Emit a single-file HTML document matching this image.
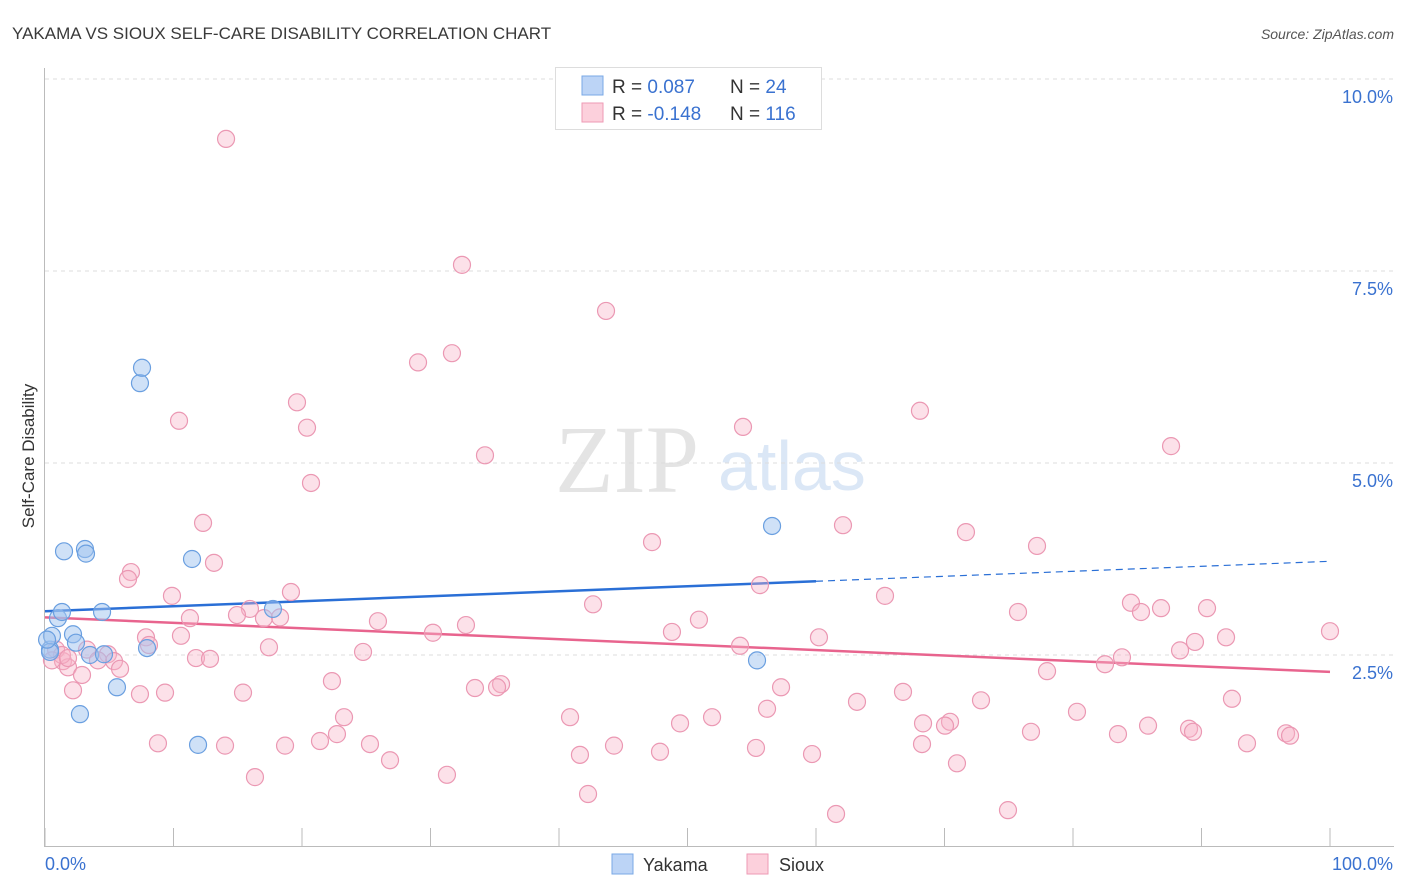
<!DOCTYPE html>
<html><head><meta charset="utf-8"><style>
body{margin:0;background:#fff;font-family:"Liberation Sans",sans-serif}
svg{display:block}
</style></head><body>
<svg id="chart" width="1406" height="892" xmlns="http://www.w3.org/2000/svg">
<text x="12" y="39" font-size="17" fill="#3a3a3a">YAKAMA VS SIOUX SELF-CARE DISABILITY CORRELATION CHART</text>
<text x="1394" y="39" font-size="14" font-style="italic" fill="#555" text-anchor="end">Source: ZipAtlas.com</text>
<g>
<text x="555" y="492" font-family="Liberation Serif" font-size="96" fill="#e4e4e4">ZIP</text>
<text x="718" y="490" font-size="70" fill="#dbe7f6">atlas</text>
</g>
<g id="grid"></g>
<g id="axes"></g>
<text transform="translate(34,456) rotate(-90)" font-size="17" fill="#333" text-anchor="middle">Self-Care Disability</text>
<g id="lines"></g>
<g id="pts"></g>
<g>
<rect x="555.5" y="67.5" width="266" height="62" fill="#fff" stroke="#ddd"/>
<rect x="582" y="76" width="21" height="19" fill="#bcd4f6" stroke="#7aa8e6"/>
<rect x="582" y="103" width="21" height="19" fill="#fcd0dc" stroke="#ee9ab4"/>
<text x="612" y="93" font-size="19" fill="#333">R = <tspan fill="#3a72d0"> 0.087</tspan></text>
<text x="730" y="93" font-size="19" fill="#333">N = <tspan fill="#3a72d0"> 24</tspan></text>
<text x="612" y="120" font-size="19" fill="#333">R = <tspan fill="#3a72d0">-0.148</tspan></text>
<text x="730" y="120" font-size="19" fill="#333">N = <tspan fill="#3a72d0">116</tspan></text>
</g>
<g>
<rect x="612" y="854" width="21" height="20" fill="#bcd4f6" stroke="#7aa8e6"/>
<text x="643" y="871" font-size="18" fill="#333">Yakama</text>
<rect x="747" y="854" width="21" height="20" fill="#fcd0dc" stroke="#ee9ab4"/>
<text x="779" y="871" font-size="18" fill="#333">Sioux</text>
</g>
</svg>
<script>
const yTicks=[2.5,5.0,7.5,10.0];
const yTickLabels=["2.5%","5.0%","7.5%","10.0%"];
const xTicks=[0,10,20,30,40,50,60,70,80,90,100];
const xLabels=["0.0%","100.0%"];
const yakamaX=[0.39,0.54,1.01,1.32,1.48,2.18,2.41,2.72,3.11,3.19,3.50,4.44,4.59,5.60,7.39,7.55,7.94,11.44,11.91,17.74,55.41,56.58,0.39,0.16];
const yakamaY=[2.57,2.75,2.98,3.06,3.85,2.77,2.66,1.73,3.88,3.82,2.50,3.06,2.51,2.08,6.04,6.24,2.59,3.75,1.33,3.10,2.43,4.18,2.54,2.70];
const siouxX=[14.09,32.45,43.66,29.03,31.67,10.43,19.61,20.39,68.09,54.32,34.24,87.63,20.70,12.30,62.10,71.67,47.24,77.20,13.15,6.69,6.46,55.64,19.14,9.88,65.37,42.65,84.51,85.29,86.85,90.43,15.95,75.72,14.94,11.28,17.04,18.29,25.91,50.89,32.76,48.79,30.19,100.0,10.58,7.86,60.23,91.91,89.49,8.09,54.09,88.33,17.43,24.75,3.27,4.90,11.75,12.84,5.37,4.12,1.40,1.79,5.84,2.88,83.81,82.49,77.98,22.33,35.49,35.18,33.46,57.28,7.39,9.34,15.41,2.18,66.77,92.37,63.19,72.84,56.19,80.31,23.27,40.86,51.91,49.42,68.33,70.43,70.04,85.84,83.50,89.03,89.34,76.73,96.58,96.89,22.72,8.79,14.01,18.68,21.40,25.29,44.28,47.86,55.33,59.69,68.25,93.54,41.63,26.85,70.97,16.34,31.28,42.26,61.56,74.94,0.86,1.32,0.54,1.79];
const siouxY=[9.22,7.58,6.98,6.31,6.43,5.55,5.79,5.46,5.68,5.47,5.10,5.22,4.74,4.22,4.19,4.10,3.97,3.92,3.70,3.58,3.49,3.41,3.32,3.27,3.27,3.16,3.18,3.06,3.11,3.11,3.10,3.06,3.02,2.98,2.98,2.99,2.94,2.96,2.89,2.80,2.79,2.81,2.75,2.73,2.73,2.73,2.67,2.63,2.62,2.56,2.60,2.54,2.57,2.51,2.46,2.45,2.42,2.43,2.42,2.34,2.32,2.24,2.47,2.38,2.29,2.16,2.12,2.08,2.07,2.08,1.99,2.01,2.01,2.04,2.02,1.93,1.89,1.91,1.80,1.76,1.69,1.69,1.69,1.61,1.61,1.63,1.58,1.58,1.47,1.54,1.50,1.50,1.48,1.45,1.47,1.35,1.32,1.32,1.38,1.34,1.32,1.24,1.29,1.21,1.34,1.35,1.20,1.13,1.09,0.91,0.94,0.69,0.43,0.48,2.57,2.50,2.43,2.46];
const yakamaTrend=[3.07,3.72];
const siouxTrend=[2.99,2.28];
const NS="http://www.w3.org/2000/svg";
const X=v=>45+v*12.85, Y=v=>847-v*76.8;
function mk(tag,attrs,parent){const e=document.createElementNS(NS,tag);for(const k in attrs)e.setAttribute(k,attrs[k]);parent.appendChild(e);return e;}
const grid=document.getElementById('grid'),axes=document.getElementById('axes');
yTicks.forEach((t,i)=>{
 const l=mk('line',{x1:45,x2:1394,y1:Y(t),y2:Y(t),stroke:'#ddd','stroke-dasharray':'4,4'},grid);
 
 
 const tx=mk('text',{x:1393,y:Y(t)+24,'font-size':18,fill:'#3a72d0','text-anchor':'end'},axes);
 tx.textContent=yTickLabels[i];
 
 
});
mk('line',{x1:44.5,x2:44.5,y1:68,y2:847,stroke:'#bbb'},axes);
mk('line',{x1:44,x2:1394,y1:846.5,y2:846.5,stroke:'#bbb'},axes);
xTicks.forEach(t=>{const l=mk('line',{x1:X(t),x2:X(t),y1:828,y2:847,stroke:'#bbb'},axes);
 
 });
const xl0=mk('text',{x:45,y:870,'font-size':18,fill:'#3a72d0'},axes);xl0.textContent=xLabels[0];


const xl1=mk('text',{x:1393,y:870,'font-size':18,fill:'#3a72d0','text-anchor':'end'},axes);xl1.textContent=xLabels[1];


const pts=document.getElementById('pts');
siouxX.forEach((v,i)=>{const c=mk('circle',{cx:X(v),cy:Y(siouxY[i]),r:8.5,fill:'rgba(248,180,200,0.4)',stroke:'#eb98b3','stroke-width':1.2},pts);
 
 });
yakamaX.forEach((v,i)=>{const c=mk('circle',{cx:X(v),cy:Y(yakamaY[i]),r:8.5,fill:'rgba(160,196,240,0.5)',stroke:'#6a9fe0','stroke-width':1.2},pts);
 
 });
const lines=document.getElementById('lines');
const ym=v=>yakamaTrend[0]+(yakamaTrend[1]-yakamaTrend[0])*v/100;
const l1=mk('line',{x1:X(0),y1:Y(ym(0)),x2:X(60),y2:Y(ym(60)),stroke:'#2a6fd6','stroke-width':2.5},lines);


const l2=mk('line',{x1:X(60),y1:Y(ym(60)),x2:X(100),y2:Y(ym(100)),stroke:'#2a6fd6','stroke-width':1.2,'stroke-dasharray':'7,5'},lines);


const l3=mk('line',{x1:X(0),y1:Y(siouxTrend[0]),x2:X(100),y2:Y(siouxTrend[1]),stroke:'#e8648e','stroke-width':2.5},lines);


</script>
</body></html>
